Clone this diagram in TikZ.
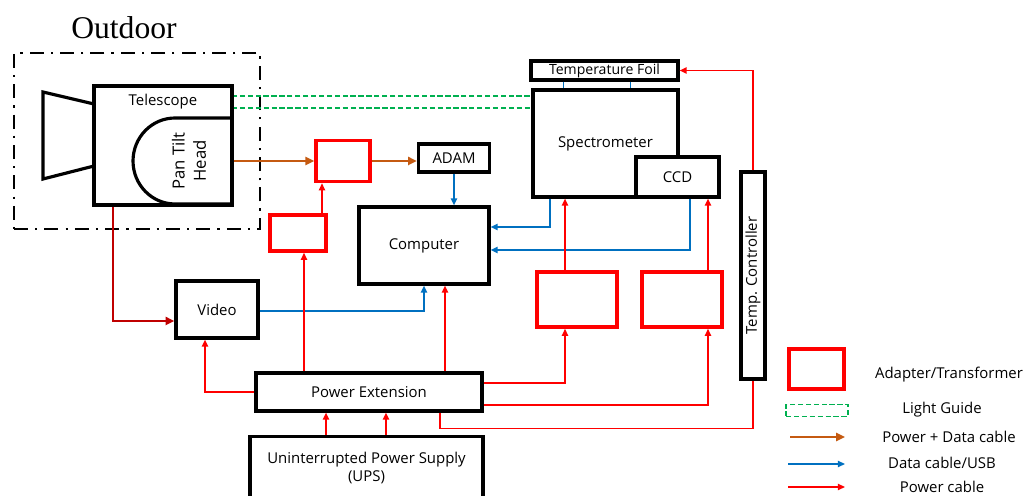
\documentclass[tikz,border=0pt]{standalone}
\usepackage{fontspec}
\setmainfont{Open Sans}
\newfontfamily\outdoorfont{Liberation Serif}
\usetikzlibrary{positioning,arrows.meta,calc}
\definecolor{cableOrange}{HTML}{C55A11}
\definecolor{cableBlue}{HTML}{0070C0}
\definecolor{cableRed}{HTML}{FF0000}
\definecolor{cableDarkRed}{HTML}{C00000}
\definecolor{guideGreen}{HTML}{00B050}
\tikzset{
  unit/.style={rectangle, draw=black, line width=1.8pt, fill=white,
    align=center, font=\fontsize{8.5}{10.5}\selectfont, inner sep=1pt},
  adapter/.style={rectangle, draw=cableRed, line width=2pt, fill=white},
  guide/.style={rectangle, draw=guideGreen, line width=0.9pt,
    dash pattern=on 3pt off 1.5pt},
  outdoorBox/.style={rectangle, draw=black, line width=1.3pt,
    dash pattern=on 8pt off 4pt on 1.3pt off 4pt},
  legendText/.style={font=\fontsize{8.5}{10.5}\selectfont, anchor=center},
  arrowPwrData/.style={-{Triangle[length=5pt,width=4.5pt]}, line width=1.4pt, cableOrange},
  arrowData/.style={-{Triangle[length=4pt,width=3.5pt]}, line width=0.9pt, cableBlue},
  arrowPwr/.style={-{Triangle[length=4pt,width=3.5pt]}, line width=0.9pt, cableRed},
  arrowPwrMain/.style={-{Triangle[length=5pt,width=4.5pt]}, line width=1.5pt, cableDarkRed},
}
\begin{document}
\begin{tikzpicture}[x=0.02cm, y=-0.02cm]
  \useasboundingbox (0,0) rectangle (1025,496);
  % outdoor part
  \node[font=\outdoorfont\fontsize{18}{20}\selectfont] (outtxt) at (124,28) {Outdoor};
  \node[outdoorBox, minimum width=4.92cm, minimum height=3.52cm] (outd) at (137,141) {};
  \node[guide, minimum width=6.02cm, minimum height=0.24cm] (lg) at (382.5,102) {};
  \draw[line width=1.8pt, fill=white] (43,92) -- (94,104) -- (94,166) -- (43,179) -- cycle;
  \node[unit, minimum width=2.76cm, minimum height=2.38cm,
    label={[font=\fontsize{8.5}{10.5}\selectfont, below=2pt]north:Telescope}] (tel) at (163,145.5) {};
  \draw[line width=1.8pt] (232,118) -- (175,118)
    arc[start angle=90, end angle=270, x radius=0.84cm, y radius=0.86cm] -- (232,204);
  \node[font=\fontsize{9.5}{12}\selectfont, align=center, rotate=90] (pth) at (189,161) {Pan Tilt\\Head};

  % indoor units
  \node[adapter, minimum width=1.08cm, minimum height=0.82cm] (ad1) at (343,161) {};
  \node[unit, minimum width=1.42cm, minimum height=0.56cm] (adam) at (454,158) {ADAM};
  \node[adapter, minimum width=1.12cm, minimum height=0.72cm] (ad2) at (298,233) {};
  \node[unit, minimum width=2.6cm, minimum height=1.54cm] (comp) at (424,245.5) {Computer};
  \node[unit, minimum width=2.94cm, minimum height=0.38cm, font=\fontsize{8}{10}\selectfont] (foil) at (604.5,70.5) {Temperature Foil};
  \node[unit, minimum width=2.9cm, minimum height=2.14cm] (spec) at (605.5,143.5) {Spectrometer};
  \node[unit, minimum width=1.66cm, minimum height=0.8cm] (ccd) at (677.5,177) {CCD};
  \node[unit, minimum width=0.48cm, minimum height=4.14cm,
    label={[font=\fontsize{8.5}{10.5}\selectfont, rotate=90]center:Temp. Controller}] (tctl) at (753,275.5) {};
  \node[adapter, minimum width=1.6cm, minimum height=1.1cm] (ad3) at (577,299.5) {};
  \node[adapter, minimum width=1.6cm, minimum height=1.1cm] (ad4) at (682,299.5) {};
  \node[unit, minimum width=1.64cm, minimum height=1.14cm] (video) at (217,309.5) {Video};
  \node[unit, minimum width=4.52cm, minimum height=0.76cm] (pe) at (369,392) {Power Extension};
  \node[unit, minimum width=4.66cm, minimum height=1.26cm] (ups) at (366.5,468) {Uninterrupted Power Supply\\(UPS)};

  % power + data
  \draw[arrowPwrData] (tel.east |- ad1.west) -- (ad1.west);
  \draw[arrowPwrData] (ad1.east) -- (ad1.east -| adam.west);
  % data
  \draw[arrowData] (adam.south) -- (adam.south |- comp.north);
  \draw[arrowData] ([xshift=-1.11cm]spec.south) |- ([yshift=0.37cm]comp.east);
  \draw[arrowData] ([xshift=0.25cm]ccd.south) |- ([yshift=-0.09cm]comp.east);
  \draw[arrowData] ([yshift=-0.03cm]video.east) -| (comp.south);
  \draw[cableBlue, line width=0.4pt] ([xshift=-0.83cm]foil.south) -- ([xshift=-0.83cm]foil.south |- spec.north);
  \draw[cableBlue, line width=0.4pt] ([xshift=0.51cm]foil.south) -- ([xshift=0.51cm]foil.south |- spec.north);
  % power
  \draw[arrowPwrMain] ([xshift=-1cm]tel.south) |- ([yshift=-0.23cm]video.west);
  \draw[arrowPwr] (pe.west) -| ([xshift=-0.24cm]video.south);
  \draw[arrowPwr] ([xshift=0.12cm]ad2.south |- pe.north) -- ([xshift=0.12cm]ad2.south);
  \draw[arrowPwr] ([xshift=0.48cm]ad2.north) -- ([xshift=0.48cm]ad2.north |- ad1.south);
  \draw[arrowPwr] ([xshift=0.42cm]comp.south |- pe.north) -- ([xshift=0.42cm]comp.south);
  \draw[arrowPwr] ([yshift=0.18cm]pe.east) -| ([xshift=-0.24cm]ad3.south);
  \draw[arrowPwr] ([xshift=-0.24cm]ad3.north) -- ([xshift=-0.24cm]ad3.north |- spec.south);
  \draw[arrowPwr] ([yshift=-0.26cm]pe.east) -| ([xshift=0.52cm]ad4.south);
  \draw[arrowPwr] ([xshift=0.52cm]ad4.north) -- ([xshift=0.52cm]ad4.north |- ccd.south);
  \draw[cableRed, line width=0.9pt] ([xshift=1.42cm]pe.south) -- ++(0cm,-0.32cm) -| (tctl.south);
  \draw[arrowPwr] (tctl.north) |- (foil.east);
  \draw[arrowPwr] ([xshift=-0.81cm]ups.north) -- ([xshift=-0.81cm]ups.north |- pe.south);
  \draw[arrowPwr] ([xshift=0.39cm]ups.north) -- ([xshift=0.39cm]ups.north |- pe.south);

  % legend
  \node[adapter, minimum width=1.1cm, minimum height=0.8cm] (lgad) at (816.5,369) {};
  \node[legendText] (lgadtxt) at (949,375) {Adapter/Transformer};
  \node[guide, minimum width=1.24cm, minimum height=0.22cm] (lglg) at (817,410.5) {};
  \node[legendText] (lglgtxt) at (942,410) {Light Guide};
  \coordinate (lgo1) at (790,437); \coordinate (lgo2) at (845,437);
  \draw[arrowPwrData] (lgo1) -- (lgo2);
  \node[legendText] (lgotxt) at (949,437) {Power + Data cable};
  \coordinate (lgb1) at (788,464); \coordinate (lgb2) at (845,464);
  \draw[arrowData] (lgb1) -- (lgb2);
  \node[legendText] (lgbtxt) at (942,463) {Data cable/USB};
  \coordinate (lgr1) at (788,487); \coordinate (lgr2) at (845,487);
  \draw[arrowPwr] (lgr1) -- (lgr2);
  \node[legendText] (lgrtxt) at (942,487) {Power cable};
\end{tikzpicture}
\end{document}
